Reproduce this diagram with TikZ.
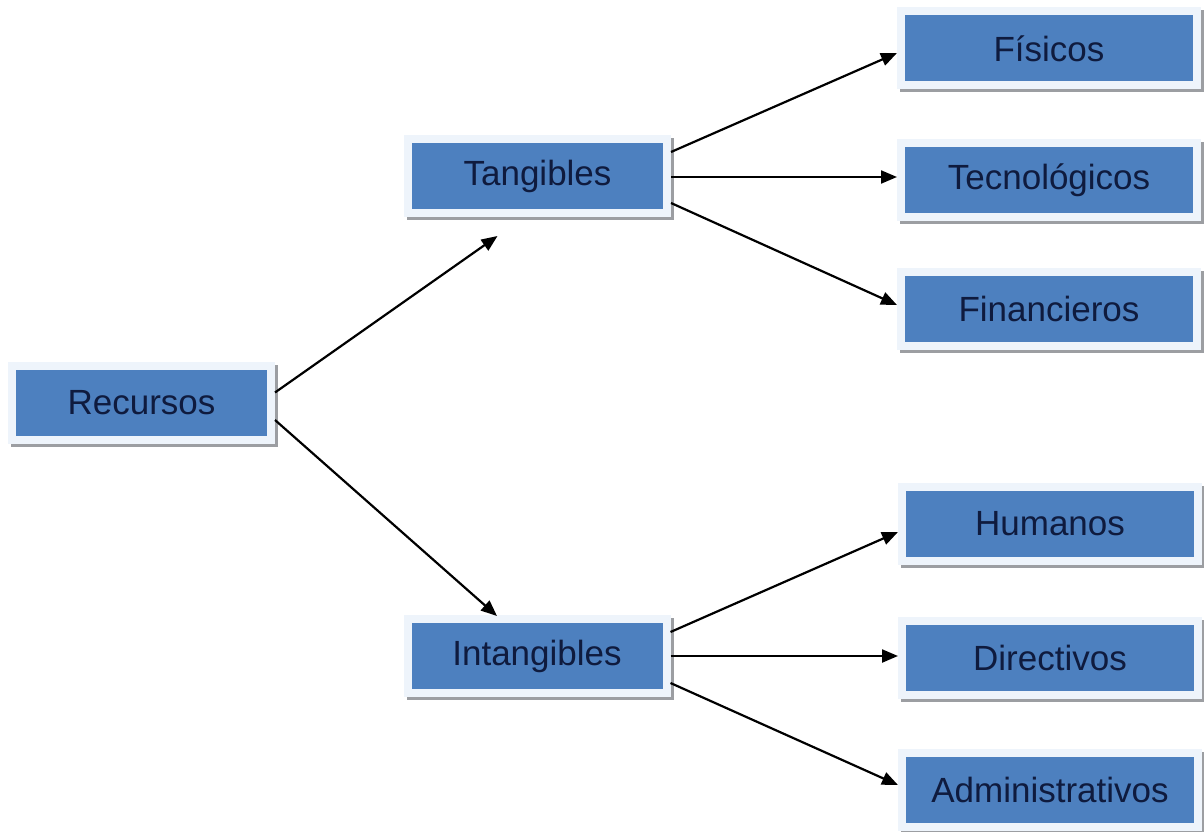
\documentclass[tikz,border=0pt]{standalone}
\usepackage{fontspec}
\setmainfont{Liberation Sans}
\usetikzlibrary{arrows.meta,shadows}

\definecolor{boxblue}{HTML}{4D80BF}
\definecolor{boxframe}{HTML}{EEF4FB}
\definecolor{boxshadow}{HTML}{9C9EA2}
\definecolor{boxtext}{HTML}{0F1B3E}

\tikzset{
  box/.style={rectangle, fill=boxblue, draw=boxframe, line width=8pt,
    text=boxtext, font=\fontsize{35}{40}\selectfont,
    minimum height=74pt, inner sep=0pt,
    drop shadow={shadow xshift=3pt, shadow yshift=-3pt, opacity=1,
      fill=boxshadow, draw=boxshadow, line width=8pt}},
  leftbox/.style={box, minimum width=259pt},
  rightbox/.style={box, minimum width=296pt},
  link/.style={line width=2.2pt, draw=black,
    -{Triangle[length=16pt,width=13pt]}}
}

\begin{document}
\begin{tikzpicture}[x=1pt,y=-1pt]
  \useasboundingbox (0,0) rectangle (1204,832);
  \fill[white] (0,0) rectangle (1204,832);

  % root and the two branches
  \node[leftbox] (rec) at (141.5,402.5) {Recursos};
  \node[leftbox] (tan) at (537.5,176) {Tangibles};
  \node[leftbox] (int) at (537,656) {Intangibles};

  % leaves of the tangible branch
  \node[rightbox] (fis) at (1049,48.5) {Físicos};
  \node[rightbox] (tec) at (1049,180) {Tecnológicos};
  \node[rightbox] (fin) at (1049,308.5) {Financieros};

  % leaves of the intangible branch
  \node[rightbox] (hum) at (1050,523.5) {Humanos};
  \node[rightbox] (dir) at (1050,658) {Directivos};
  \node[rightbox] (adm) at (1050,789.5) {Administrativos};

  % connectors
  \draw[link] ([yshift=10pt]rec.east) -- ([xshift=-40pt,yshift=-19pt]tan.south);
  \draw[link] ([yshift=-17.5pt]rec.east) -- ([xshift=-40pt,yshift=-1pt]int.north);

  \draw[link] ([yshift=24pt]tan.east) -- ([yshift=-4.5pt]fis.west);
  \draw[link] ([yshift=-1pt]tan.east) -- ([yshift=3pt]tec.west);
  \draw[link] ([yshift=-27pt]tan.east) -- ([yshift=3.5pt]fin.west);

  \draw[link] ([yshift=24pt]int.east) -- ([yshift=-8.5pt]hum.west);
  \draw[link] (int.east) -- ([yshift=2pt]dir.west);
  \draw[link] ([yshift=-27pt]int.east) -- ([yshift=4.5pt]adm.west);
\end{tikzpicture}
\end{document}
